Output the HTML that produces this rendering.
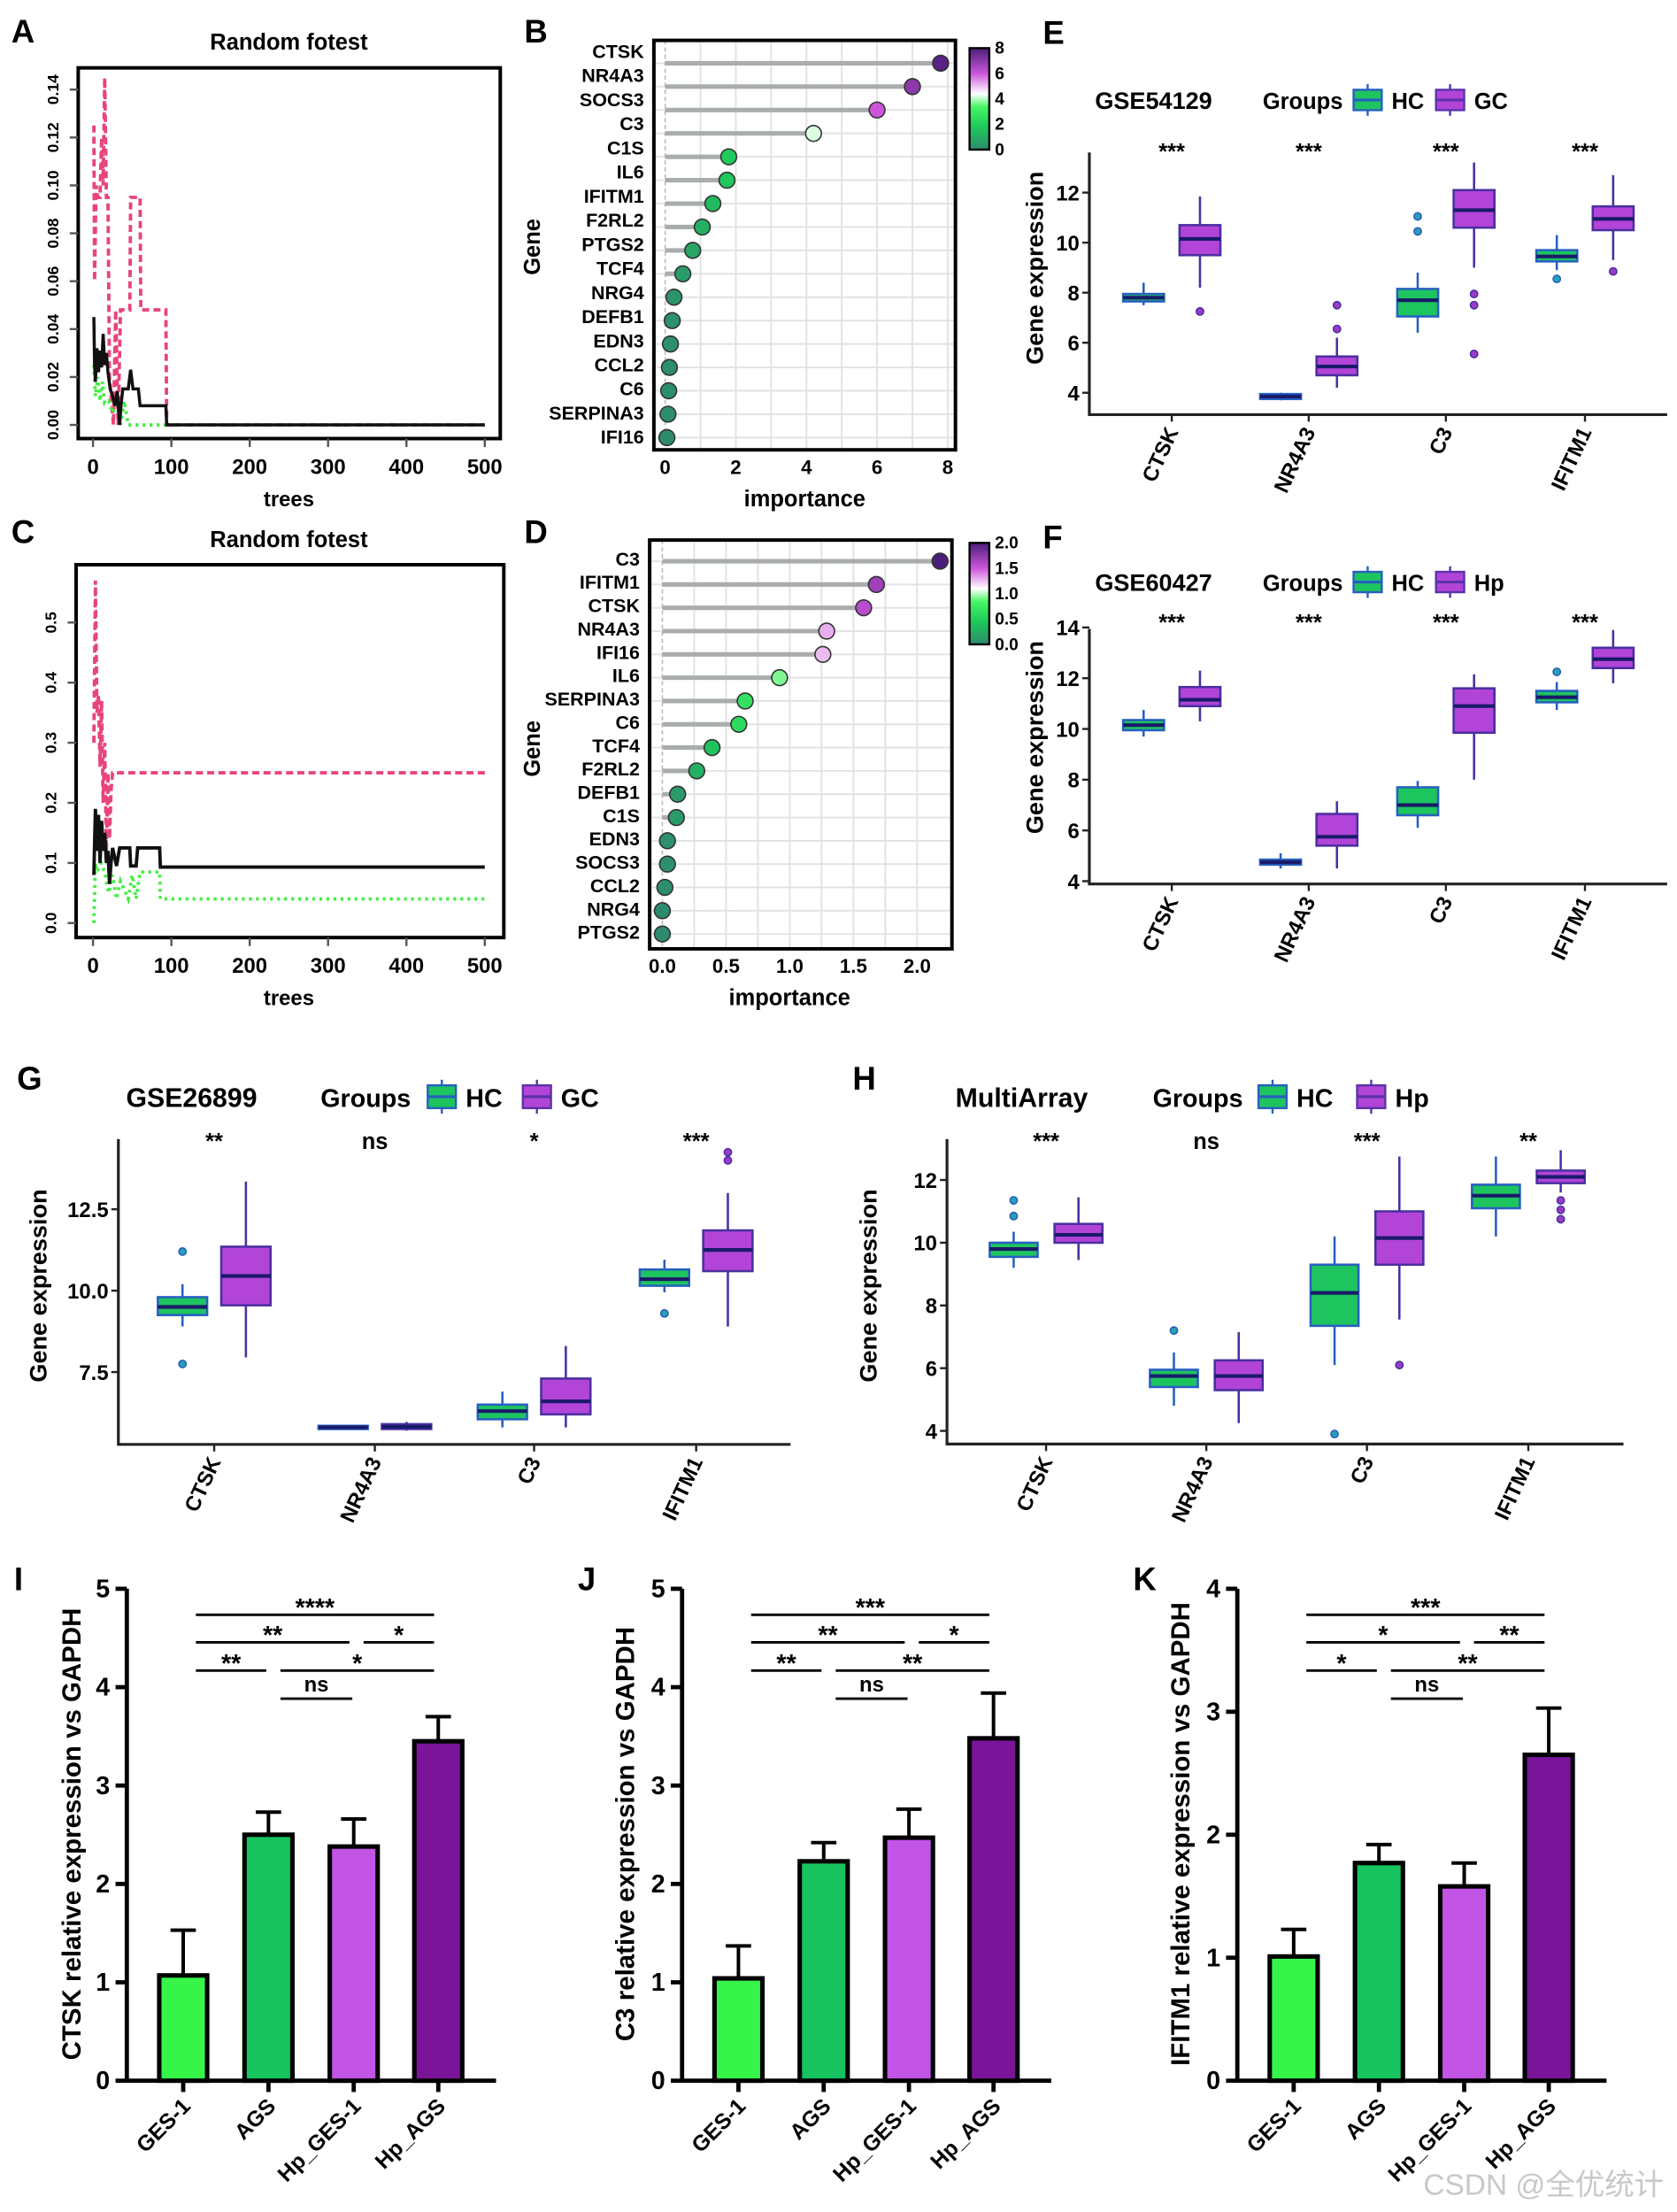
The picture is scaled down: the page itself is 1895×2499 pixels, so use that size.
<!DOCTYPE html>
<html><head><meta charset="utf-8"><title>Figure</title>
<style>html,body{margin:0;padding:0;background:#fff}svg{display:block}text{font-family:"Liberation Sans",Arial,"Noto Sans CJK SC",sans-serif}</style>
</head><body>
<svg id="fig" xmlns="http://www.w3.org/2000/svg" width="1895" height="2499" viewBox="0 0 1190 1569"></svg>
<script>
// ---------- DATA ----------
const aOOB=[[1,0.045],[2,0.025],[3,0.018],[5,0.032],[7,0.022],[9,0.031],[11,0.024],[13,0.038],[15,0.025],[17,0.03],[19,0.022],[22,0.015],[25,0.012],[28,0.008],[31,0.014],[34,0.0],[36,0.009],[38,0.015],[45,0.015],[48,0.023],[51,0.015],[58,0.015],[60,0.008],[93,0.008],[94,0],[500,0]];
const aPink=[[1,0.125],[2,0.06],[4,0.1],[6,0.095],[9,0.095],[11,0.12],[13,0.1],[15,0.145],[17,0.095],[19,0.095],[21,0.02],[26,0.0],[29,0.048],[32,0.0],[35,0.048],[47,0.048],[48,0.095],[60,0.095],[61,0.048],[93,0.048],[94,0],[500,0]];
const aGreen=[[1,0.025],[3,0.012],[6,0.02],[9,0.01],[12,0.018],[15,0.009],[20,0.01],[25,0.005],[30,0.01],[35,0.0],[40,0.01],[45,0],[500,0]];
const cOOB=[[1,0.08],[3,0.19],[5,0.12],[7,0.18],[9,0.1],[11,0.17],[13,0.12],[15,0.15],[17,0.1],[19,0.12],[21,0.065],[23,0.1],[25,0.125],[30,0.095],[34,0.125],[47,0.125],[48,0.095],[55,0.095],[57,0.125],[85,0.125],[86,0.093],[500,0.093]];
const cPink=[[1,0.3],[3,0.57],[5,0.35],[7,0.38],[9,0.26],[11,0.37],[13,0.2],[15,0.3],[17,0.12],[19,0.25],[21,0.14],[23,0.22],[25,0.25],[500,0.25]];
const cGreen=[[1,0],[3,0.1],[5,0.085],[10,0.1],[15,0.085],[20,0.05],[25,0.08],[30,0.04],[35,0.07],[45,0.04],[50,0.08],[55,0.04],[60,0.085],[85,0.085],[86,0.04],[500,0.04]];
const bGenes=["CTSK","NR4A3","SOCS3","C3","C1S","IL6","IFITM1","F2RL2","PTGS2","TCF4","NRG4","DEFB1","EDN3","CCL2","C6","SERPINA3","IFI16"];
const bVals=[7.8,7.0,6.0,4.2,1.8,1.75,1.35,1.05,0.78,0.5,0.25,0.2,0.15,0.12,0.1,0.08,0.05];
const dGenes=["C3","IFITM1","CTSK","NR4A3","IFI16","IL6","SERPINA3","C6","TCF4","F2RL2","DEFB1","C1S","EDN3","SOCS3","CCL2","NRG4","PTGS2"];
const dVals=[2.18,1.68,1.58,1.29,1.26,0.92,0.65,0.6,0.39,0.27,0.12,0.11,0.04,0.04,0.02,0.0,0.0];
const boxGenes=["CTSK","NR4A3","C3","IFITM1"];
const eHC=[[7.5,7.65,7.8,7.95,8.4],[3.7,3.75,3.85,3.95,4.0],[6.4,7.05,7.7,8.15,8.8],[8.9,9.25,9.45,9.7,10.3]];
const eGC=[[8.2,9.5,10.15,10.7,11.85],[4.2,4.7,5.05,5.45,6.2],[9.0,10.6,11.3,12.1,13.2],[9.3,10.5,10.95,11.45,12.7]];
const eHCout=[[],[],[10.45,11.05],[8.55]];
const eGCout=[[7.25],[6.55,7.5],[7.95,7.5,5.55],[8.85]];
const fHC=[[9.7,9.95,10.15,10.35,10.75],[4.5,4.65,4.75,4.85,5.1],[6.1,6.6,7.0,7.7,7.95],[10.75,11.05,11.25,11.5,11.85]];
const fGC=[[10.3,10.9,11.15,11.65,12.3],[4.5,5.4,5.75,6.65,7.15],[8.0,9.85,10.9,11.6,12.15],[11.8,12.4,12.75,13.2,13.9]];
const fHCout=[[],[],[],[12.25]];
const fGCout=[[],[],[],[]];
const gHC=[[8.9,9.25,9.5,9.8,10.2],[5.75,5.75,5.8,5.85,5.88],[5.8,6.05,6.3,6.5,6.9],[9.95,10.15,10.35,10.65,10.95]];
const gGC=[[7.95,9.55,10.45,11.35,13.35],[5.7,5.75,5.82,5.9,5.97],[5.8,6.2,6.6,7.3,8.3],[8.9,10.6,11.25,11.85,13.0]];
const gHCout=[[11.2,7.75],[],[],[9.3]];
const gGCout=[[],[],[],[14.0,14.25]];
const hHC=[[9.2,9.55,9.8,10.0,10.35],[4.8,5.4,5.75,5.95,6.5],[6.1,7.35,8.4,9.3,10.2],[10.2,11.1,11.5,11.85,12.75]];
const hGC=[[9.45,10.0,10.25,10.6,11.45],[4.25,5.3,5.75,6.25,7.15],[7.55,9.3,10.15,11.0,12.75],[11.6,11.9,12.1,12.3,12.95]];
const hHCout=[[10.85,11.35],[7.2],[3.9],[]];
const hGCout=[[],[],[6.1],[11.35,11.05,10.75]];
const barCats=["GES-1","AGS","Hp_GES-1","Hp_AGS"];
const iMeans=[1.07,2.5,2.38,3.45];
const iErr=[0.46,0.23,0.28,0.25];
const jMeans=[1.04,2.23,2.47,3.48];
const jErr=[0.33,0.19,0.29,0.46];
const kMeans=[1.01,1.77,1.58,2.65];
const kErr=[0.22,0.15,0.19,0.38];
const iSig=["****","**","*","**","*","ns"];
const jSig=["***","**","*","**","**","ns"];
const kSig=["***","*","**","*","**","ns"];

// ---------- HELPERS ----------
const NS='http://www.w3.org/2000/svg';
const svg=document.getElementById('fig');
function E(tag,attrs,parent){const e=document.createElementNS(NS,tag);for(const k in attrs)e.setAttribute(k,attrs[k]);(parent||svg).appendChild(e);return e;}
function T(x,y,s,size,parent,o){o=o||{};const a={x:x,y:y,'font-size':size,'font-weight':o.w||'bold','text-anchor':o.a||'middle',fill:o.f||'#000'};if(o.r)a.transform='rotate('+o.r+' '+x+' '+y+')';if(o.st)a['font-style']=o.st;const e=E('text',a,parent);e.textContent=s;return e;}
function G(name){const g=E('g',{});return g;}
function lerp(a,b,t){return a+(b-a)*t;}
const cstops=[[0,[46,138,110]],[0.22,[30,200,90]],[0.42,[70,245,100]],[0.55,[255,255,255]],[0.75,[205,85,220]],[1,[74,30,122]]];
function cmap(t){t=Math.max(0,Math.min(1,t));for(let i=1;i<cstops.length;i++){if(t<=cstops[i][0]){const a=cstops[i-1],b=cstops[i];const u=(t-a[0])/(b[0]-a[0]);return 'rgb('+a[1].map((v,k)=>Math.round(lerp(v,b[1][k],u))).join(',')+')';}}return 'rgb(74,30,122)';}

[['A',8,30],['B',372,30],['E',740,31],['C',8,385],['D',372,385],['F',740,389],['G',12,773],['H',605,773],['I',10,1128],['J',410,1128],['K',804,1128]].forEach(p=>{const t=T(p[1],p[2],p[0],23,svg,{a:'start'});});

// ---------- RANDOM FOREST ----------
function rfPanel(name,box,ymax,yticks,fmt,series,titleY){
  const g=G(name);
  const x=t=>66+(t-0)*(344-66)/500;
  const y=v=>box.y0-(v/ymax)*(box.y0-box.y1);
  const title=T(205,titleY,'Random fotest',16,g);
  
  const fr=E('rect',{x:box.l,y:box.t,width:box.r-box.l,height:box.b-box.t,fill:'none',stroke:'#000','stroke-width':2.5},g);
  
  
  [0,100,200,300,400,500].forEach(t=>{
    const tk=E('line',{x1:x(t),x2:x(t),y1:box.b,y2:box.b+6,stroke:'#555','stroke-width':1.5},g);
    
    
    const lb=T(x(t),box.b+25,String(t),15,g);
    
  });
  yticks.forEach(v=>{
    const tk=E('line',{x1:box.l-6,x2:box.l,y1:y(v),y2:y(v),stroke:'#555','stroke-width':1.5},g);
    
    
    const lb=T(box.l-14,y(v),fmt(v),11,g,{r:-90});
    
  });
  const xt=T(205,box.b+48,'trees',15,g);
  
  series.forEach(s=>{
    const p=E('polyline',{points:s.d.map(q=>x(q[0]).toFixed(1)+','+y(q[1]).toFixed(1)).join(' '),fill:'none',stroke:s.c,'stroke-width':s.w,'stroke-dasharray':s.dash||'none'},g);
    
    
  });
}
rfPanel('panel-a-random-forest',{l:55.5,r:355,t:48,b:311,y0:301.3,y1:63.4},0.14,[0,0.02,0.04,0.06,0.08,0.1,0.12,0.14],v=>v.toFixed(2),
 [{d:aPink,c:'#e8457a',w:2.4,dash:'5,3',n:'line-pink-error'},{d:aGreen,c:'#44ee44',w:2.4,dash:'2,3',n:'line-green-error'},{d:aOOB,c:'#111',w:2.2,n:'line-oob-error'}],35);
rfPanel('panel-c-random-forest',{l:54,r:357.5,t:400.5,b:665,y0:654.7,y1:441.5},0.5,[0,0.1,0.2,0.3,0.4,0.5],v=>v.toFixed(1),
 [{d:cPink,c:'#e8457a',w:2.4,dash:'5,3',n:'line-pink-error'},{d:cGreen,c:'#44ee44',w:2.4,dash:'2,3',n:'line-green-error'},{d:cOOB,c:'#111',w:2.4,n:'line-oob-error'}],388);

// ---------- LOLLIPOP ----------
function lolli(name,cfg,genes,vals){
  const g=G(name);
  const x=v=>cfg.x0+v*(cfg.x1-cfg.x0)/cfg.xmax;
  const ry=i=>cfg.r0+i*cfg.rs;
  const ly=i=>cfg.l0+i*cfg.ls;
  const bg=E('rect',{x:cfg.l,y:cfg.t,width:cfg.r-cfg.l,height:cfg.b-cfg.t,fill:'#fff'},g);
  
  
  for(let v=cfg.gstep;v<=cfg.xmax+cfg.gstep*0.6;v+=cfg.gstep){
    const gl=E('line',{x1:x(v),x2:x(v),y1:cfg.t,y2:cfg.b,stroke:'#e2e2e2','stroke-width':1.2},g);
    
    
  }
  genes.forEach((gn,i)=>{
    const gl=E('line',{x1:cfg.l,x2:cfg.r,y1:ry(i),y2:ry(i),stroke:'#e2e2e2','stroke-width':1.2},g);
    
    
  });
  const zl=E('line',{x1:x(0),x2:x(0),y1:cfg.t,y2:cfg.b,stroke:'#bbb','stroke-width':1,'stroke-dasharray':'3,2'},g);
  
  
  genes.forEach((gn,i)=>{
    const st=E('line',{x1:x(0),x2:x(vals[i]),y1:ry(i),y2:ry(i),stroke:'#a9adad','stroke-width':3.2},g);
    
    
    const c=E('circle',{cx:x(vals[i]),cy:ry(i),r:5.6,fill:cmap(vals[i]/cfg.cmax),stroke:'#333','stroke-width':1},g);
    
    
    const lb=T(cfg.l-7,ly(i)+5,gn,13.5,g,{a:'end'});
    
  });
  const fr=E('rect',{x:cfg.l,y:cfg.t,width:cfg.r-cfg.l,height:cfg.b-cfg.t,fill:'none',stroke:'#000','stroke-width':2.5},g);
  
  
  cfg.ticks.forEach(v=>{
    const lb=T(x(v),cfg.b+17,cfg.fmt(v),14,g);
    
  });
  const xt=T((cfg.l+cfg.r)/2+(cfg.xoff||0),cfg.b+40,'importance',16,g);
  
  const yt=T(383,cfg.gy,'Gene',16,g,{r:-90});
  
  const gid='grad-'+name;
  const defs=E('defs',{},g);
  const lg=E('linearGradient',{id:gid,x1:0,y1:1,x2:0,y2:0},defs);
  cstops.forEach(s=>E('stop',{offset:s[0],'stop-color':'rgb('+s[1].join(',')+')'},lg));
  const cb=E('rect',{x:688,y:cfg.cbt,width:14,height:cfg.cbb-cfg.cbt,fill:'url(#'+gid+')',stroke:'#000','stroke-width':1.5},g);
  
  
  cfg.cbticks.forEach(v=>{
    const yy=cfg.cbb-(v/cfg.cmax)*(cfg.cbb-cfg.cbt);
    const lb=T(706,yy+4,cfg.cbfmt(v),12,g,{a:'start'});
    
  });
}
lolli('panel-b-importance',{l:464,r:678,t:28.5,b:319,x0:472,x1:672.5,xmax:8,gstep:1,r0:44.7,rs:16.6,l0:36,ls:17.1,cmax:8,ticks:[0,2,4,6,8],fmt:v=>String(v),gy:175,cbt:34,cbb:106,cbticks:[0,2,4,6,8],cbfmt:v=>String(v)},bGenes,bVals);
lolli('panel-d-importance',{l:461,r:675.5,t:383,b:673,x0:470,x1:650.8,xmax:2,gstep:0.25,r0:398,rs:16.53,l0:396,ls:16.56,cmax:2,ticks:[0,0.5,1,1.5,2],fmt:v=>v.toFixed(1),gy:531,cbt:385,cbb:457,cbticks:[0,0.5,1,1.5,2],cbfmt:v=>v.toFixed(1),xoff:-8},dGenes,dVals);

// ---------- BOXPLOTS ----------
function boxPanel(name,cfg){
  const g=G(name);
  const y=v=>cfg.yref-(v-cfg.vref)*cfg.k;
  const tt=T(cfg.titleX,cfg.titleY,cfg.title,cfg.tsize,g,{a:'start'});
  
  const gl=T(cfg.grpX,cfg.titleY,'Groups',cfg.tsize-1,g,{a:'start'});
  
  [[cfg.hcX,'#1ec45e','#2660c0','HC'],[cfg.gcX,'#b244d8','#5a34a8',cfg.g2]].forEach(L=>{
    const h=cfg.tsize*0.85,yy=cfg.titleY-h+1;
    const ln=E('line',{x1:L[0]+10,x2:L[0]+10,y1:yy-4,y2:yy+h+4,stroke:L[2],'stroke-width':1.5},g);
    
    
    const r=E('rect',{x:L[0],y:yy,width:20,height:h,fill:L[1],stroke:L[2],'stroke-width':1.5},g);
    
    
    const m=E('line',{x1:L[0],x2:L[0]+20,y1:yy+h/2,y2:yy+h/2,stroke:L[2],'stroke-width':2},g);
    
    
    const lt=T(L[0]+27,cfg.titleY,L[3],cfg.tsize-1,g,{a:'start'});
    
  });
  const ax=E('polyline',{points:cfg.left+','+cfg.top+' '+cfg.left+','+cfg.bot+' '+cfg.right+','+cfg.bot,fill:'none',stroke:'#222','stroke-width':2},g);
  
  
  cfg.ticks.forEach(v=>{
    const tk=E('line',{x1:cfg.left-5,x2:cfg.left,y1:y(v),y2:y(v),stroke:'#222','stroke-width':1.5},g);
    
    
    const lb=T(cfg.left-7,y(v)+5.5,cfg.fmt(v),15,g,{a:'end'});
    
  });
  const yt=T(cfg.ytX,cfg.ytY,'Gene expression',17,g,{r:-90});
  
  boxGenes.forEach((gn,i)=>{
    const c=cfg.centers[i];
    const tk=E('line',{x1:c,x2:c,y1:cfg.bot,y2:cfg.bot+5,stroke:'#222','stroke-width':1.5},g);
    
    
    const lb=T(c+5,cfg.bot+12,gn,15,g,{a:'end',r:-65});
    
    const sg=T(c,cfg.starY,cfg.sig[i],16,g);
    
    [[cfg.hc[i],cfg.hco[i],-cfg.off,'#1ec45e','#2660c0','#2aa0b0','hc'],[cfg.gc[i],cfg.gco[i],cfg.off,'#b244d8','#4b2fa0','#9a3cc8','gc']].forEach(B=>{
      const s=B[0],cx=c+B[2],w=cfg.bw;
      const wk=E('line',{x1:cx,x2:cx,y1:y(s[0]),y2:y(s[4]),stroke:B[4],'stroke-width':1.6},g);
      
      
      const bx=E('rect',{x:cx-w/2,y:y(s[3]),width:w,height:Math.max(2,y(s[1])-y(s[3])),fill:B[3],stroke:B[4],'stroke-width':1.6},g);
      
      
      const md=E('line',{x1:cx-w/2,x2:cx+w/2,y1:y(s[2]),y2:y(s[2]),stroke:'#1a1a6a','stroke-width':2.6},g);
      
      
      B[1].forEach(o=>{
        const oc=E('circle',{cx:cx,cy:y(o),r:2.6,fill:B[5],stroke:B[4],'stroke-width':1},g);
        
        
      });
    });
  });
}
boxPanel('panel-e-gse54129',{title:'GSE54129',g2:'GC',titleX:777,titleY:77,tsize:17,grpX:896,hcX:960.5,gcX:1019,left:773,right:1183,top:108,bot:294,yref:278.5,vref:4,k:17.75,ticks:[4,6,8,10,12],fmt:v=>String(v),ytX:740,ytY:190,centers:[831.5,928.7,1026,1124.7],off:20,bw:29,starY:113,sig:['***','***','***','***'],hc:eHC,gc:eGC,hco:eHCout,gco:eGCout});
boxPanel('panel-f-gse60427',{title:'GSE60427',g2:'Hp',titleX:777,titleY:419,tsize:17,grpX:896,hcX:960.5,gcX:1019,left:773,right:1183,top:446,bot:627,yref:625,vref:4,k:18,ticks:[4,6,8,10,12,14],fmt:v=>String(v),ytX:740,ytY:523,centers:[831.5,928.7,1026,1124.7],off:20,bw:29,starY:447,sig:['***','***','***','***'],hc:fHC,gc:fGC,hco:fHCout,gco:fGCout});
boxPanel('panel-g-gse26899',{title:'GSE26899',g2:'GC',titleX:89.5,titleY:785,tsize:19,grpX:227.5,hcX:303.5,gcX:371,left:84,right:561,top:808,bot:1024.6,yref:915.5,vref:10,k:23.1,ticks:[7.5,10,12.5],fmt:v=>v.toFixed(1),ytX:33,ytY:912,centers:[152,266,379,494],off:22.5,bw:35,starY:815,sig:['**','ns','*','***'],hc:gHC,gc:gGC,hco:gHCout,gco:gGCout});
boxPanel('panel-h-multiarray',{title:'MultiArray',g2:'Hp',titleX:678,titleY:785,tsize:19,grpX:818,hcX:893,gcX:963,left:672,right:1152,top:808,bot:1024.3,yref:837,vref:12,k:22.25,ticks:[4,6,8,10,12],fmt:v=>String(v),ytX:622,ytY:912,centers:[742.3,856,970,1084.5],off:23,bw:34,starY:815,sig:['***','ns','***','**'],hc:hHC,gc:hGC,hco:hHCout,gco:hGCout});

// ---------- BARS ----------
const barFill=['#36f548','#16c35e','#c254e6','#7a159a'];
function barPanel(name,cfg,means,errs,sig){
  const g=G(name);
  const y=v=>1476-v*(1476-1127)/cfg.ymax;
  const L=cfg.axis;
  const offs=[40,100.5,161,221];
  const ax=E('polyline',{points:L+',1127 '+L+',1476 '+(L+262)+',1476',fill:'none',stroke:'#000','stroke-width':3},g);
  
  
  for(let v=0;v<=cfg.ymax;v++){
    const tk=E('line',{x1:L-8,x2:L,y1:y(v),y2:y(v),stroke:'#000','stroke-width':3},g);
    
    
    const lb=T(L-12,y(v)+6,String(v),18,g,{a:'end'});
    
  }
  const yt=T(cfg.ytX,1301,cfg.ytitle,18.5,g,{r:-90});
  
  barCats.forEach((cat,i)=>{
    const cx=L+offs[i];
    const er=E('polyline',{points:cx+','+y(means[i])+' '+cx+','+y(means[i]+errs[i])+' '+(cx-9)+','+y(means[i]+errs[i])+' '+(cx+9)+','+y(means[i]+errs[i]),fill:'none',stroke:'#000','stroke-width':2.5},g);
    
    
    const b=E('rect',{x:cx-17,y:y(means[i]),width:34,height:1476-y(means[i]),fill:barFill[i],stroke:'#000','stroke-width':3.2},g);
    
    
    const tk=E('line',{x1:cx,x2:cx,y1:1476,y2:1484,stroke:'#000','stroke-width':3},g);
    
    
    const lb=T(cx+6,1495,cat,15.5,g,{a:'end',r:-45});
    
  });
  const br=[[49,218,1145.5,0],[49,158,1165,1],[168,218,1165,2],[49,99,1185,3],[109,218,1185,4],[109,160,1205,5]];
  br.forEach(bb=>{
    const ln=E('line',{x1:L+bb[0],x2:L+bb[1],y1:bb[2],y2:bb[2],stroke:'#000','stroke-width':1.8},g);
    
    
    const s=sig[bb[3]];
    const lb=T(L+(bb[0]+bb[1])/2,bb[2]-(s==='ns'?5:-1),s,s==='ns'?15:18,g);
    
  });
}
barPanel('panel-i-ctsk',{axis:90,ymax:5,ytX:57,ytitle:'CTSK relative expression vs GAPDH'},iMeans,iErr,iSig);
barPanel('panel-j-c3',{axis:484,ymax:5,ytX:450,ytitle:'C3 relative expression vs GAPDH'},jMeans,jErr,jSig);
barPanel('panel-k-ifitm1',{axis:878,ymax:4,ytX:844,ytitle:'IFITM1 relative expression vs GAPDH'},kMeans,kErr,kSig);

const wm=T(1010,1557,'CSDN @全优统计',21,svg,{a:'start',w:'normal',f:'#c8c8c8'});

</script>
</body></html>
